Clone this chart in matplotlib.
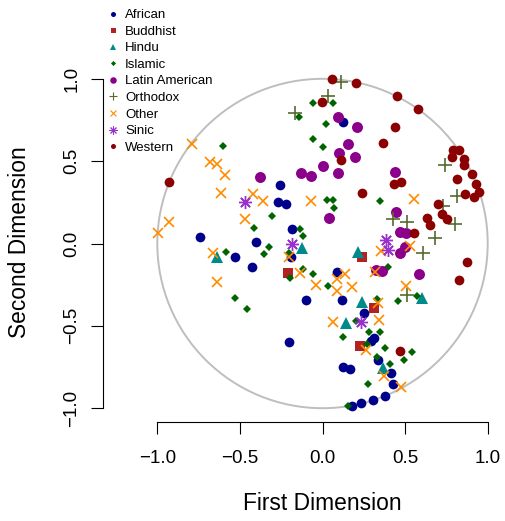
import matplotlib
matplotlib.use("Agg")
import matplotlib.pyplot as plt
from matplotlib.lines import Line2D
from matplotlib.patches import Circle

plt.rcParams['font.family'] = ['Liberation Sans', 'DejaVu Sans']

## DATA

african_x = [0.126, -0.255, -0.272, -0.219, -0.183, -0.740, -0.404, -0.527, -0.428, -0.191,
             -0.100, -0.203, 0.086, 0.115, 0.254, 0.310, 0.291, 0.334, 0.122, 0.166,
             0.413, 0.424, 0.378, 0.304, 0.231, 0.177]
african_y = [0.738, 0.358, 0.255, 0.242, 0.090, 0.038, 0.010, -0.080, -0.141, -0.080,
             -0.343, -0.596, -0.171, -0.343, -0.420, -0.576, -0.592, -0.707, -0.747, -0.764,
             -0.785, -0.851, -0.924, -0.950, -0.970, -0.984]

buddhist_x = [-0.211, 0.242, 0.312, 0.229]
buddhist_y = [-0.177, -0.082, -0.392, -0.622]

hindu_x = [-0.640, -0.126, 0.217, 0.239, 0.142, 0.602, 0.368]
hindu_y = [-0.080, -0.027, -0.052, -0.358, -0.485, -0.333, -0.756]

islamic_x = [-0.059, 0.062, -0.140, 0.019, -0.059, 0.003, -0.600, -0.307, -0.415, -0.136,
             -0.118, 0.030, 0.065, 0.067, 0.348, -0.322, -0.582, -0.356, -0.200, -0.197,
             -0.120, -0.056, 0.033, -0.528, -0.455, 0.398, 0.455, 0.575, 0.328, 0.281,
             0.346, 0.126, 0.200, 0.272, 0.381, 0.330, 0.540, 0.493, 0.409, 0.277, 0.153]
islamic_y = [0.851, 0.851, 0.770, 0.724, 0.633, 0.583, 0.594, 0.167, 0.092, 0.090,
             0.044, 0.264, 0.262, 0.213, 0.259, -0.021, -0.050, -0.064, -0.055, -0.211,
             -0.155, -0.183, -0.258, -0.329, -0.396, -0.141, -0.349, -0.319, -0.336, -0.536,
             -0.539, -0.565, -0.472, -0.613, -0.636, -0.687, -0.657, -0.707, -0.730, -0.853, -0.987]

latin_x = [0.096, 0.207, 0.156, 0.098, 0.197, 0.000, 0.091, -0.130, -0.068, -0.381,
           0.441, 0.039, 0.445, 0.469, 0.505, 0.471, 0.499, 0.324, 0.358, 0.586]
latin_y = [0.770, 0.709, 0.607, 0.551, 0.527, 0.472, 0.430, 0.429, 0.408, 0.406,
           0.436, 0.154, 0.191, 0.072, 0.062, -0.058, -0.023, -0.161, -0.166, -0.186]

orthodox_x = [-0.165, 0.035, 0.110, 0.740, 0.812, 0.731, 0.802, 0.425, 0.513, 0.684, 0.607, 0.511]
orthodox_y = [0.792, 0.896, 0.982, 0.475, 0.288, 0.230, 0.118, 0.147, 0.131, 0.035, -0.058, -0.313]

other_x = [-0.787, -0.681, -0.640, -0.590, -0.616, -0.423, -0.362, -0.068, -0.467, -0.929,
           -0.994, -0.661, -0.640, -0.202, -0.134, -0.039, 0.064, 0.085, 0.088, 0.554,
           0.531, 0.356, 0.318, 0.139, 0.177, 0.508, 0.333, 0.344, 0.265, 0.372, 0.473]
other_y = [0.604, 0.497, 0.483, 0.416, 0.305, 0.298, 0.258, 0.256, 0.149, 0.132,
           0.061, -0.060, -0.232, -0.082, -0.181, -0.254, -0.474, -0.214, -0.288, 0.268,
           -0.017, -0.046, -0.173, -0.185, -0.262, -0.261, -0.361, -0.466, -0.647, -0.803, -0.869]

sinic_x = [-0.468, -0.186, 0.383, 0.396, 0.231]
sinic_y = [0.253, -0.006, 0.024, -0.039, -0.478]

western_x = [0.060, 0.201, 0.453, 0.580, -0.002, 0.439, 0.368, 0.110, -0.927, 0.792,
             0.828, 0.782, 0.857, 0.857, 0.812, 0.905, 0.927, 0.949, 0.917, 0.864,
             0.241, 0.431, 0.476, 0.698, 0.722, 0.755, 0.631, 0.651, 0.552, 0.873,
             0.824, 0.467]
western_y = [0.998, 0.973, 0.896, 0.817, 0.857, 0.709, 0.608, 0.505, 0.375, 0.568,
             0.568, 0.527, 0.513, 0.477, 0.392, 0.422, 0.361, 0.315, 0.281, 0.301,
             0.305, 0.359, 0.372, 0.240, 0.179, 0.147, 0.156, 0.115, 0.062, -0.114,
             -0.222, -0.651]

groups = ["African", "Buddhist", "Hindu", "Islamic", "Latin American",
          "Orthodox", "Other", "Sinic", "Western"]
xs = [african_x, buddhist_x, hindu_x, islamic_x, latin_x, orthodox_x, other_x, sinic_x, western_x]
ys = [african_y, buddhist_y, hindu_y, islamic_y, latin_y, orthodox_y, other_y, sinic_y, western_y]

colors = ["#00008B", "#B22222", "#008B8B", "#006400", "#8B008B",
          "#556B2F", "#FF8C00", "#9932CC", "#8B0000"]
markers = ["o", "s", "^", "D", "o", "+", "x", (8, 2, 0), "o"]
plot_ms = [7.0, 7.0, 8.5, 4.3, 7.9, 9.4, 7.9, 9.4, 7.0]
leg_ms = [3.6, 3.6, 4.3, 2.6, 4.7, 5.8, 4.3, 5.8, 3.6]
mews = [0, 0, 0, 0, 0, 1.2, 1.2, 1.0, 0]
leg_mews = [0, 0, 0, 0, 0, 0.8, 0.8, 0.7, 0]

## PLOT

fig = plt.figure(figsize=(5.05, 5.21), dpi=100)
ax = fig.add_axes([103 / 505, 99.3 / 521, 402 / 505, 421.7 / 521])
ax.set_xlim(-1.3287, 1.1047)
ax.set_ylim(-1.082, 1.4785)

# unit circle guide
ax.add_patch(Circle((0, 0), 1, fill=False, edgecolor="#BEBEBE", lw=1.4, zorder=1))

for i in range(len(groups)):
    ax.plot(xs[i], ys[i], linestyle="none", marker=markers[i], ms=plot_ms[i],
            color=colors[i], mec=colors[i], mew=mews[i], zorder=3)

# R-like axes
for side in ["top", "right"]:
    ax.spines[side].set_visible(False)
ax.spines["left"].set_bounds(-1, 1)
ax.spines["bottom"].set_bounds(-1, 1)
for side in ["left", "bottom"]:
    ax.spines[side].set_linewidth(0.8)

ticks = [-1.0, -0.5, 0.0, 0.5, 1.0]
ax.set_xticks(ticks)
ax.set_yticks(ticks)
ax.tick_params(axis="both", length=8.6, width=0.8, labelsize=13.5)
ax.tick_params(axis="x", pad=11.5)
ax.tick_params(axis="y", pad=7.6)
for lab in ax.get_yticklabels():
    lab.set_rotation(90)
    lab.set_va("center")

ax.set_xlabel("First Dimension", fontsize=16.4)
ax.xaxis.label.set_va("center")
ax.xaxis.set_label_coords(0.546, -0.1935)
ax.set_ylabel("Second Dimension", fontsize=16.4)
ax.yaxis.label.set_va("center")
ax.yaxis.set_label_coords(-0.2085, 0.4248)

handles = [Line2D([], [], linestyle="none", marker=markers[i], ms=leg_ms[i],
                  color=colors[i], mec=colors[i], mew=leg_mews[i])
           for i in range(len(groups))]
ax.legend(handles, groups, loc="upper left", bbox_to_anchor=(107.4 / 505, (521 - 8.9) / 521),
          bbox_transform=fig.transFigure, frameon=False, fontsize=9.5,
          handlelength=0.8, handletextpad=0.53, borderpad=0, borderaxespad=0,
          labelspacing=0.33)

fig.savefig("out.png", dpi=100)
